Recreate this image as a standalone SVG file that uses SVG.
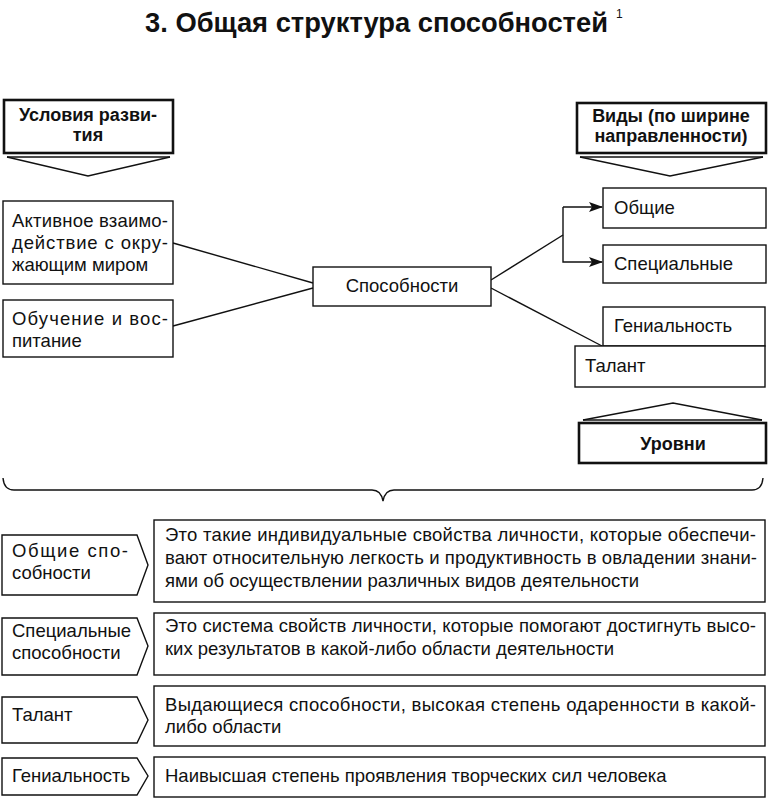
<svg xmlns="http://www.w3.org/2000/svg" width="768" height="799" viewBox="0 0 768 799">
<style>
text{font-family:"Liberation Sans",Arial,sans-serif;font-size:18.5px;fill:#111}
.b{font-weight:bold;font-size:18px}
.t{font-weight:bold;font-size:27px}
.sup{font-size:12px}
.box{fill:#fff;stroke:#111;stroke-width:1.4}
.hb{fill:#fff;stroke:#111;stroke-width:2.6}
.ln{fill:none;stroke:#111;stroke-width:1.4}
.c{text-anchor:middle}
</style>
<defs>
<marker id="ar" viewBox="0 0 14 10" refX="13" refY="5" markerWidth="14" markerHeight="10" markerUnits="userSpaceOnUse" orient="auto">
<path d="M0,0 L14,5 L0,10 L3,5 Z" fill="#111"/>
</marker>
</defs>
<rect width="768" height="799" fill="#fff"/>
<g id="title">
<text class="t" x="145" y="32" textLength="463" lengthAdjust="spacingAndGlyphs">3. Общая структура способностей</text>
<text class="sup" x="616" y="18">1</text>
</g>
<g id="connectors">
<line class="ln" x1="173" y1="243" x2="313" y2="283"/>
<line class="ln" x1="173" y1="326" x2="313" y2="288"/>
<line class="ln" x1="491" y1="280" x2="563" y2="235"/>
<line class="ln" x1="491" y1="288" x2="602" y2="346"/>
<polyline class="ln" points="563,207 563,262 602,262" marker-end="url(#ar)"/>
<line class="ln" x1="563" y1="207" x2="602" y2="207" marker-end="url(#ar)"/>
<path class="ln" d="M3,478 Q4,490 14,490 H372 Q381,490 383,501 Q385,490 394,490 H752 Q762,490 763,478"/>
</g>
<g id="hdr-usloviya">
<rect class="hb" x="4" y="100" width="169" height="53"/>
<polyline class="ln" points="7,157 170,157"/>
<polyline class="ln" points="7,157 88,176 170,157" stroke-width="1.8"/>
<text class="b c" x="88" y="121">Условия разви-</text>
<text class="b c" x="88" y="141">тия</text>
</g>
<g id="hdr-vidy">
<rect class="hb" x="577" y="103" width="189" height="50"/>
<polyline class="ln" points="580,157 763,157"/>
<polyline class="ln" points="580,157 670,176 763,157" stroke-width="1.8"/>
<text class="b c" x="671" y="122">Виды (по ширине</text>
<text class="b c" x="671" y="142">направленности)</text>
</g>
<g id="hdr-urovni">
<rect class="hb" x="579" y="423" width="187" height="40"/>
<polyline class="ln" points="583,420 762,420"/>
<polyline class="ln" points="583,420 673,403 762,420" stroke-width="1.8"/>
<text class="b c" x="673" y="450">Уровни</text>
</g>
<g id="n-aktivnoe">
<rect class="box" x="3" y="201" width="170" height="83"/>
<text x="12" y="227" textLength="156" lengthAdjust="spacing">Активное взаимо-</text>
<text x="12" y="249" textLength="156" lengthAdjust="spacing">действие с окру-</text>
<text x="12" y="271">жающим миром</text>
</g>
<g id="n-obuchenie">
<rect class="box" x="3" y="300" width="170" height="57"/>
<text x="12" y="325" textLength="156" lengthAdjust="spacing">Обучение и вос-</text>
<text x="12" y="347">питание</text>
</g>
<g id="n-sposobnosti">
<rect class="box" x="313" y="267" width="178" height="39"/>
<text class="c" x="402" y="292">Способности</text>
</g>
<g id="n-obshchie">
<rect class="box" x="603" y="188" width="163" height="40"/>
<text x="614" y="214">Общие</text>
</g>
<g id="n-specialnye">
<rect class="box" x="603" y="245" width="163" height="38"/>
<text x="614" y="270">Специальные</text>
</g>
<g id="n-genialnost">
<rect class="box" x="603" y="307" width="162" height="39"/>
<text x="614" y="332">Гениальность</text>
</g>
<g id="n-talant">
<rect class="box" x="575" y="346" width="190" height="41"/>
<text x="585" y="372">Талант</text>
</g>
<g id="d-obshchie">
<path class="box" d="M2,535 H137 L148,565 L137,595 H2 Z"/>
<text x="12" y="557" textLength="116" lengthAdjust="spacing">Общие спо-</text>
<text x="12" y="579">собности</text>
<rect class="box" x="154" y="520" width="611" height="82"/>
<text x="165" y="541" textLength="591" lengthAdjust="spacing">Это такие индивидуальные свойства личности, которые обеспечи-</text>
<text x="165" y="564" textLength="592" lengthAdjust="spacing">вают относительную легкость и продуктивность в овладении знани-</text>
<text x="165" y="587">ями об осуществлении различных видов деятельности</text>
</g>
<g id="d-specialnye">
<path class="box" d="M2,618 H137 L148,646 L137,675 H2 Z"/>
<text x="12" y="637">Специальные</text>
<text x="12" y="659">способности</text>
<rect class="box" x="154" y="613" width="611" height="62"/>
<text x="165" y="632" textLength="591" lengthAdjust="spacing">Это система свойств личности, которые помогают достигнуть высо-</text>
<text x="165" y="655">ких результатов в какой-либо области деятельности</text>
</g>
<g id="d-talant">
<path class="box" d="M2,697 H137 L148,720 L137,743 H2 Z"/>
<text x="12" y="721">Талант</text>
<rect class="box" x="154" y="686" width="611" height="60"/>
<text x="165" y="711" textLength="591" lengthAdjust="spacing">Выдающиеся способности, высокая степень одаренности в какой-</text>
<text x="165" y="733">либо области</text>
</g>
<g id="d-genialnost">
<path class="box" d="M2,758 H137 L148,776 L137,795 H2 Z"/>
<text x="12" y="782">Гениальность</text>
<rect class="box" x="154" y="757" width="611" height="40"/>
<text x="165" y="782">Наивысшая степень проявления творческих сил человека</text>
</g>
</svg>
